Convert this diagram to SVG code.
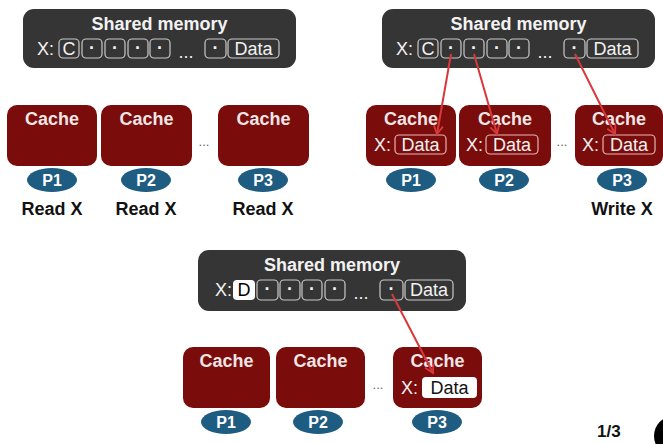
<svg xmlns="http://www.w3.org/2000/svg" width="663" height="444" viewBox="0 0 663 444">
<defs>
<style>
.mem{fill:#353535}
.cell{fill:none;stroke:#c9c9c9;stroke-width:1.2}
.ttl{font-family:"Liberation Sans",Arial,sans-serif;font-weight:bold;font-size:18px;fill:#f2f2f2;text-anchor:middle}
.mt{font-family:"Liberation Sans",Arial,sans-serif;font-size:18px;fill:#f2f2f2}
.mc{font-family:"Liberation Sans",Arial,sans-serif;font-size:18px;fill:#f2f2f2;text-anchor:middle}
.dot{font-family:"Liberation Sans",Arial,sans-serif;font-size:18px;font-weight:bold;fill:#f2f2f2;text-anchor:middle}
.cache{fill:#7a0c0c}
.ct{font-family:"Liberation Sans",Arial,sans-serif;font-weight:bold;font-size:18px;fill:#f0e6e6;text-anchor:middle}
.p{fill:#1f5c82}
.pt{font-family:"Liberation Sans",Arial,sans-serif;font-weight:bold;font-size:16px;fill:#ffffff;text-anchor:middle}
.lbl{font-family:"Liberation Sans",Arial,sans-serif;font-weight:bold;font-size:18px;fill:#111;text-anchor:middle}
.ell{font-family:"Liberation Sans",Arial,sans-serif;font-size:13px;fill:#666;text-anchor:middle}
.cd{fill:none;stroke:#e9b4b4;stroke-width:1.2}
.arr{fill:none;stroke:#d8383c;stroke-width:2;marker-end:url(#ah)}
</style>
<marker id="ah" viewBox="0 0 12 12" refX="10" refY="6" markerWidth="11" markerHeight="11" markerUnits="userSpaceOnUse" orient="auto">
<polyline points="1,1 10,6 1,11" fill="none" stroke="#d8383c" stroke-width="2"/>
</marker>
</defs>
<rect width="663" height="444" fill="#ffffff"/>

<!-- Panel 1 -->
<g id="mem1">
<rect class="mem" x="23" y="9" width="273" height="59" rx="11"/>
<text class="ttl" x="159.5" y="30">Shared memory</text>
<text class="mt" x="37" y="55">X:</text>
<rect class="cell" x="59" y="39" width="20" height="19" rx="4"/><text class="mc" x="69" y="55">C</text>
<rect class="cell" x="82" y="39" width="20" height="19" rx="4"/><text class="dot" x="92" y="54">·</text>
<rect class="cell" x="105" y="39" width="20" height="19" rx="4"/><text class="dot" x="115" y="54">·</text>
<rect class="cell" x="128" y="39" width="20" height="19" rx="4"/><text class="dot" x="138" y="54">·</text>
<rect class="cell" x="150" y="39" width="20" height="19" rx="4"/><text class="dot" x="160" y="54">·</text>
<text class="mc" x="186" y="58">...</text>
<rect class="cell" x="205" y="39" width="21" height="19" rx="4"/><text class="dot" x="215.5" y="54">·</text>
<rect class="cell" x="228" y="39" width="51" height="19" rx="4"/><text class="mc" x="253.5" y="55">Data</text>
</g>
<g id="c1a"><rect class="cache" x="7" y="105" width="90" height="61" rx="10"/><text class="ct" x="52" y="125">Cache</text></g>
<g id="c1b"><rect class="cache" x="101" y="105" width="91" height="61" rx="10"/><text class="ct" x="146.5" y="125">Cache</text></g>
<g id="c1c"><rect class="cache" x="218" y="105" width="91" height="61" rx="10"/><text class="ct" x="263.5" y="125">Cache</text></g>
<text class="ell" x="204" y="146">...</text>
<g id="p1a"><ellipse class="p" cx="52" cy="180" rx="25" ry="12"/><text class="pt" x="52" y="186">P1</text><text class="lbl" x="52" y="215">Read X</text></g>
<g id="p1b"><ellipse class="p" cx="146" cy="180" rx="25" ry="12"/><text class="pt" x="146" y="186">P2</text><text class="lbl" x="146" y="215">Read X</text></g>
<g id="p1c"><ellipse class="p" cx="263" cy="180" rx="25" ry="12"/><text class="pt" x="263" y="186">P3</text><text class="lbl" x="263" y="215">Read X</text></g>

<!-- Panel 2 -->
<g id="mem2">
<rect class="mem" x="382" y="9" width="273" height="59" rx="11"/>
<text class="ttl" x="518.5" y="30">Shared memory</text>
<text class="mt" x="396" y="55">X:</text>
<rect class="cell" x="418" y="39" width="20" height="19" rx="4"/><text class="mc" x="428" y="55">C</text>
<rect class="cell" x="441" y="39" width="20" height="19" rx="4"/><text class="dot" x="451" y="54">·</text>
<rect class="cell" x="464" y="39" width="20" height="19" rx="4"/><text class="dot" x="474" y="54">·</text>
<rect class="cell" x="487" y="39" width="20" height="19" rx="4"/><text class="dot" x="497" y="54">·</text>
<rect class="cell" x="509" y="39" width="20" height="19" rx="4"/><text class="dot" x="519" y="54">·</text>
<text class="mc" x="545" y="58">...</text>
<rect class="cell" x="564" y="39" width="21" height="19" rx="4"/><text class="dot" x="574.5" y="54">·</text>
<rect class="cell" x="587" y="39" width="51" height="19" rx="4"/><text class="mc" x="612.5" y="55">Data</text>
</g>
<g id="c2a"><rect class="cache" x="366" y="105" width="90" height="61" rx="10"/><text class="ct" x="411" y="125">Cache</text>
<text class="mt" x="374" y="151">X:</text><rect class="cd" x="395" y="135" width="51" height="19" rx="4"/><text class="mc" x="420.5" y="151">Data</text></g>
<g id="c2b"><rect class="cache" x="459" y="105" width="92" height="61" rx="10"/><text class="ct" x="505" y="125">Cache</text>
<text class="mt" x="466" y="151">X:</text><rect class="cd" x="486" y="135" width="52" height="19" rx="4"/><text class="mc" x="512" y="151">Data</text></g>
<g id="c2c"><rect class="cache" x="575" y="105" width="88" height="61" rx="10"/><text class="ct" x="619" y="125">Cache</text>
<text class="mt" x="582" y="151">X:</text><rect class="cd" x="603" y="135" width="52" height="19" rx="4"/><text class="mc" x="629" y="151">Data</text></g>
<text class="ell" x="562" y="146">...</text>
<g id="p2a"><ellipse class="p" cx="411" cy="180" rx="25" ry="12"/><text class="pt" x="411" y="186">P1</text></g>
<g id="p2b"><ellipse class="p" cx="504" cy="180" rx="25" ry="12"/><text class="pt" x="504" y="186">P2</text></g>
<g id="p2c"><ellipse class="p" cx="622" cy="180" rx="25" ry="12"/><text class="pt" x="622" y="186">P3</text><text class="lbl" x="622" y="215">Write X</text></g>

<!-- Panel 3 -->
<g id="mem3">
<rect class="mem" x="198" y="250" width="268" height="61" rx="11"/>
<text class="ttl" x="332" y="271">Shared memory</text>
<text class="mt" x="215" y="296">X:</text>
<rect x="233" y="280" width="22" height="20" rx="4" fill="#ffffff"/><text class="mc" x="244" y="296" style="fill:#000">D</text>
<rect class="cell" x="257" y="280" width="21" height="20" rx="4"/><text class="dot" x="267.5" y="295">·</text>
<rect class="cell" x="280" y="280" width="20" height="20" rx="4"/><text class="dot" x="290" y="295">·</text>
<rect class="cell" x="302" y="280" width="20" height="20" rx="4"/><text class="dot" x="312" y="295">·</text>
<rect class="cell" x="325" y="280" width="20" height="20" rx="4"/><text class="dot" x="335" y="295">·</text>
<text class="mc" x="361" y="299">...</text>
<rect class="cell" x="380" y="280" width="23" height="20" rx="4"/><text class="dot" x="391.5" y="295">·</text>
<rect class="cell" x="405" y="280" width="48" height="20" rx="4"/><text class="mc" x="429" y="296">Data</text>
</g>
<g id="c3a"><rect class="cache" x="183" y="347" width="87" height="61" rx="10"/><text class="ct" x="226.5" y="367">Cache</text></g>
<g id="c3b"><rect class="cache" x="276" y="347" width="89" height="61" rx="10"/><text class="ct" x="320.5" y="367">Cache</text></g>
<g id="c3c"><rect class="cache" x="393" y="347" width="89" height="61" rx="10"/><text class="ct" x="437.5" y="367">Cache</text>
<text class="mt" x="401" y="394">X:</text><rect x="422" y="377" width="55" height="21" rx="4" fill="#ffffff"/><text class="mc" x="449.5" y="394" style="fill:#111">Data</text></g>
<text class="ell" x="378" y="389">...</text>
<g id="p3a"><ellipse class="p" cx="226" cy="422" rx="25" ry="12"/><text class="pt" x="226" y="428">P1</text></g>
<g id="p3b"><ellipse class="p" cx="318" cy="422" rx="25" ry="12"/><text class="pt" x="318" y="428">P2</text></g>
<g id="p3c"><ellipse class="p" cx="437" cy="422" rx="25" ry="12"/><text class="pt" x="437" y="428">P3</text></g>

<g id="connectors">
<line class="arr" x1="451" y1="54" x2="437" y2="134"/>
<line class="arr" x1="474" y1="54" x2="497" y2="134"/>
<line class="arr" x1="575" y1="54" x2="615" y2="134"/>
<line class="arr" x1="392" y1="294" x2="433" y2="373"/>
</g>

<text x="597" y="437" style="font-family:'Liberation Sans',Arial,sans-serif;font-weight:bold;font-size:17px;fill:#111">1/3</text>
<circle cx="674" cy="436" r="20" fill="#000"/>
</svg>
